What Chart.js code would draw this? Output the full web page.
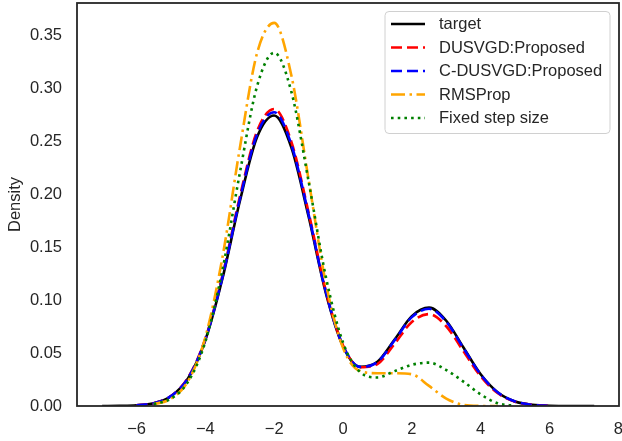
<!DOCTYPE html>
<html>
<head>
<meta charset="utf-8">
<script src="https://cdn.jsdelivr.net/npm/chart.js@4.4.1/dist/chart.umd.min.js"></script>
<style>
html,body{margin:0;padding:0;background:#ffffff;}
#wrap{width:622px;height:441px;position:relative;}
</style>
</head>
<body>
<div id="wrap"><canvas id="c" width="622" height="441"></canvas></div>
<script>
// ---- data ----
const xGrid = [-7,-6.5,-6,-5.5,-5,-4.5,-4,-3.5,-3,-2.5,-2,-1.5,-1,-0.5,0,0.5,1,1.5,2,2.5,3,3.5,4,4.5,5,5.5,6,6.5,7,7.3];

const targetY = [0.00002,0.00012,0.0006,0.0026,0.0092,0.0263,0.0623,0.1210,0.1933,0.2540,0.2747,0.2443,0.1791,0.1070,0.0565,0.0370,0.0418,0.0628,0.0850,0.0930,0.0806,0.0553,0.0300,0.0128,0.0043,0.0012,0.0002,0.00004,0.00001,0];

const dusvgdY = [null,null,0.0006,0.0027,0.0094,0.0269,0.0637,0.1237,0.1976,0.2596,0.2808,0.2497,0.1830,0.1090,0.0572,0.0366,0.0397,0.0589,0.0795,0.0869,0.0754,0.0517,0.0281,0.0120,0.0040,0.0011,0.0002,null,null,null];

const cdusvgdY = [null,null,0.0006,0.0027,0.0093,0.0266,0.0630,0.1223,0.1954,0.2568,0.2777,0.2470,0.1811,0.1080,0.0570,0.0370,0.0415,0.0621,0.0840,0.0919,0.0797,0.0547,0.0297,0.0127,0.0043,0.0011,0.0002,null,null,null];

const rmspropY = [null,null,null,0.0016,0.0069,0.0237,0.0650,0.1412,0.2435,0.3333,0.3622,0.3124,0.2139,0.1163,0.0550,0.0330,0.0310,0.0310,0.0300,0.0190,0.0070,0.0010,0.0001,0,null,null,null,null,null,null];

const fixedY = [null,null,null,0.0017,0.0070,0.0230,0.0608,0.1290,0.2200,0.3020,0.3340,0.2970,0.2125,0.1223,0.0600,0.0320,0.0270,0.0330,0.0390,0.0410,0.0340,0.0230,0.0110,0.0025,0.0002,null,null,null,null,null];

const seriesLabels = ["target","DUSVGD:Proposed","C-DUSVGD:Proposed","RMSProp","Fixed step size"];
const xTickValues = [-6,-4,-2,0,2,4,6,8];
const yTickValues = [0,0.05,0.10,0.15,0.20,0.25,0.30,0.35];

// ---- build ----
function pts(ys){ return xGrid.map((x,i)=>({x:x, y:ys[i]})); }

const FONT = '"Liberation Sans", Arial, sans-serif';
const TXT = '#262626';

const styles = [
  {color:'#000000', dash:[], width:2.6, order:5},
  {color:'#ff0000', dash:[11,5], width:2.6, order:4},
  {color:'#0000ff', dash:[11,5], width:2.6, order:3},
  {color:'#ffa500', dash:[14,4.5,2.5,4.5], width:2.6, order:2},
  {color:'#008000', dash:[2.6,4.1], width:2.6, order:1}
];
const seriesData = [targetY, dusvgdY, cdusvgdY, rmspropY, fixedY];

const datasets = seriesData.map((ys,i)=>({
  label: seriesLabels[i],
  data: pts(ys),
  borderColor: styles[i].color,
  borderDash: styles[i].dash,
  borderWidth: styles[i].width,
  order: styles[i].order,
  pointRadius: 0,
  pointHoverRadius: 0,
  fill: false,
  cubicInterpolationMode: 'monotone',
  spanGaps: false,
  borderCapStyle: 'butt'
}));

function zeroPad(s){ s.paddingTop = 0; s.paddingBottom = 0; s.paddingLeft = 0; s.paddingRight = 0; }

const framePlugin = {
  id: 'frame',
  afterDatasetsDraw(chart){
    const {ctx, chartArea:a} = chart;
    ctx.save();
    ctx.strokeStyle = TXT;
    ctx.lineWidth = 1.8;
    ctx.setLineDash([]);
    ctx.strokeRect(a.left, a.top, a.right-a.left, a.bottom-a.top);
    ctx.restore();
  }
};

const legendPlugin = {
  id: 'mplLegend',
  afterDraw(chart){
    const ctx = chart.ctx;
    const bx = 385, by = 11.5, bw = 225, bh = 122, r = 4;
    ctx.save();
    ctx.beginPath();
    ctx.moveTo(bx+r, by);
    ctx.arcTo(bx+bw, by, bx+bw, by+bh, r);
    ctx.arcTo(bx+bw, by+bh, bx, by+bh, r);
    ctx.arcTo(bx, by+bh, bx, by, r);
    ctx.arcTo(bx, by, bx+bw, by, r);
    ctx.closePath();
    ctx.fillStyle = 'rgba(255,255,255,0.8)';
    ctx.fill();
    ctx.strokeStyle = '#d0d0d0';
    ctx.lineWidth = 1;
    ctx.stroke();
    chart.data.datasets.forEach((ds,i)=>{
      const y = 24 + i*23.5;
      ctx.beginPath();
      ctx.setLineDash(ds.borderDash || []);
      ctx.lineDashOffset = 0;
      ctx.strokeStyle = ds.borderColor;
      ctx.lineWidth = ds.borderWidth;
      ctx.lineCap = 'butt';
      ctx.moveTo(391, y);
      ctx.lineTo(425, y);
      ctx.stroke();
      ctx.setLineDash([]);
      ctx.fillStyle = TXT;
      ctx.font = '16.5px ' + FONT;
      ctx.textBaseline = 'middle';
      ctx.textAlign = 'left';
      ctx.fillText(ds.label, 439, y + 0.5);
    });
    ctx.restore();
  }
};

new Chart(document.getElementById('c'), {
  type: 'line',
  data: { datasets },
  options: {
    responsive: false,
    animation: false,
    devicePixelRatio: 1,
    layout: { autoPadding: false, padding: { top: 3, right: 3, left: 0, bottom: 0 } },
    plugins: { legend: { display: false }, tooltip: { enabled: false } },
    elements: { line: { tension: 0 } },
    scales: {
      x: {
        type: 'linear',
        min: -7.73, max: 8.02,
        grid: { display: false, drawTicks: false },
        border: { display: false },
        afterBuildTicks: s => { s.ticks = xTickValues.map(v=>({value:v})); },
        afterFit: s => { s.height = 35; zeroPad(s); },
        ticks: {
          autoSkip: false, maxRotation: 0,
          padding: 14,
          color: TXT,
          font: { family: FONT, size: 16.5 },
          callback: v => (v < 0 ? '\u2212' + Math.abs(v) : String(v))
        }
      },
      y: {
        type: 'linear',
        min: 0, max: 0.381,
        grid: { display: false, drawTicks: false },
        border: { display: false },
        afterBuildTicks: s => { s.ticks = yTickValues.map(v=>({value:v})); },
        afterFit: s => { s.width = 77; zeroPad(s); },
        ticks: {
          autoSkip: false,
          padding: 15,
          color: TXT,
          font: { family: FONT, size: 16.5 },
          callback: v => Number(v).toFixed(2)
        },
        title: {
          display: true, text: 'Density', color: TXT,
          font: { family: FONT, size: 16.5 },
          padding: { top: 6, bottom: 0 }
        }
      }
    }
  },
  plugins: [framePlugin, legendPlugin]
});
</script>
</body>
</html>
